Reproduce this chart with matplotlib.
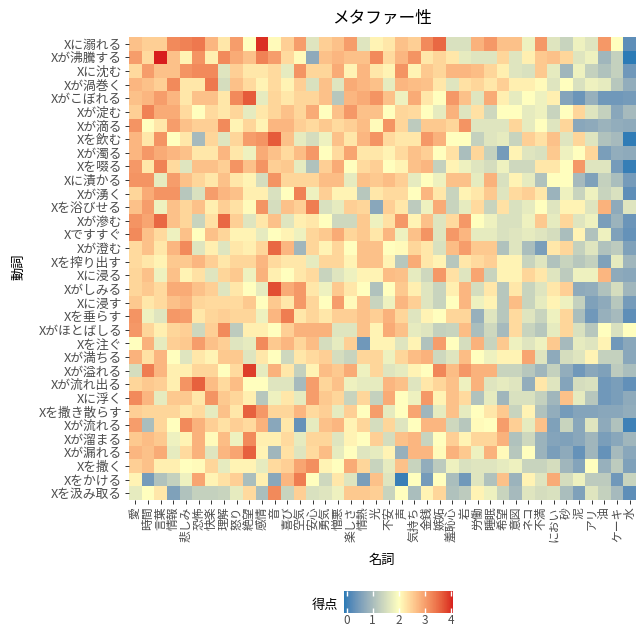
import numpy as np
import matplotlib
matplotlib.use('Agg')
import matplotlib.pyplot as plt
import matplotlib.colors as mcolors

plt.rcParams['font.family'] = ['Noto Sans CJK JP', 'DejaVu Sans']

# 名詞 (columns) and 動詞 (rows)
nouns = ['愛', '時間', '言葉', '情報', '悲しみ', '恐怖', '快楽', '理解', '怒り', '絶望',
         '感情', '音', '喜び', '空気', '安心', '勇気', '憎悪', '楽しさ', '情熱', '光',
         '不安', '声', '気持ち', '金銭', '嫉妬', '羞恥心', '岩', '労働', '睡眠', '希望',
         '意図', 'ネコ', '不満', 'におい', '砂', '泥', 'アリ', '油', 'ケーキ', '水']

verbs = ['Xに溺れる', 'Xが沸騰する', 'Xに沈む', 'Xが渦巻く', 'Xがこぼれる', 'Xが淀む',
         'Xが滴る', 'Xを飲む', 'Xが濁る', 'Xを啜る', 'Xに漬かる', 'Xが湧く',
         'Xを浴びせる', 'Xが滲む', 'Xですすぐ', 'Xが澄む', 'Xを搾り出す', 'Xに浸る',
         'Xがしみる', 'Xに浸す', 'Xを垂らす', 'Xがほとばしる', 'Xを注ぐ', 'Xが満ちる',
         'Xが溢れる', 'Xが流れ出る', 'Xに浮く', 'Xを撒き散らす', 'Xが流れる', 'Xが溜まる',
         'Xが漏れる', 'Xを撒く', 'Xをかける', 'Xを汲み取る']

# 得点: one row per verb, one value per noun
scores = [
    [2.64, 2.5, 2.5, 3.22, 3.3, 3.4, 2.76, 2.25, 3.02, 2.0, 4.0, 2.06, 2.5,
     3.02, 1.62, 2.5, 2.64, 3.02, 1.62, 2.12, 2.25, 2.64, 2.5, 3.22, 3.55, 1.55, 1.55,
     2.82, 3.08, 2.64, 2.64, 1.8, 3.08, 1.62, 1.35, 1.8, 1.62, 3.08, 2.0, 0.24],
    [3.02, 2.38, 4.08, 2.64, 2.12, 3.13, 2.18, 3.22, 2.88, 2.64, 3.3, 3.02, 2.38,
     2.06, 0.7, 2.64, 2.76, 2.64, 2.64, 3.22, 2.38, 2.76, 3.13, 2.25, 2.44, 2.25, 1.7,
     1.62, 1.62, 2.44, 1.62, 2.18, 2.57, 2.64, 2.44, 1.62, 1.8, 0.9, 1.3, -0.1],
    [2.38, 3.02, 2.64, 2.64, 3.13, 3.22, 3.22, 1.62, 2.5, 2.25, 2.25, 2.38, 1.7,
     3.13, 2.44, 2.44, 2.88, 2.12, 2.76, 2.25, 2.12, 3.13, 2.12, 2.57, 2.44, 2.76, 2.76,
     2.7, 2.44, 2.18, 1.62, 1.55, 2.57, 1.7, 0.9, 1.8, 1.3, 1.08, 1.3, 0.4],
    [2.76, 2.64, 2.5, 3.22, 2.25, 2.25, 3.4, 1.5, 2.64, 2.38, 2.12, 2.38, 2.12,
     2.5, 1.55, 2.64, 1.62, 2.88, 2.76, 2.64, 1.7, 2.76, 2.7, 2.64, 2.25, 1.62, 2.32,
     2.44, 2.25, 2.5, 2.18, 2.18, 2.06, 1.62, 2.0, 1.55, 1.8, 1.7, 1.15, 0.75],
    [2.64, 2.76, 3.02, 2.76, 2.25, 2.64, 2.64, 2.25, 3.22, 3.67, 1.7, 2.44, 2.25,
     2.44, 2.44, 2.64, 1.15, 2.76, 2.88, 3.13, 2.64, 1.8, 2.88, 2.25, 2.0, 3.08, 2.64,
     1.62, 2.88, 2.18, 1.7, 2.0, 1.8, 2.18, 0.6, 0.35, 0.8, 0.4, 0.4, 0.45],
    [2.5, 3.3, 2.88, 2.88, 2.38, 2.0, 2.38, 2.25, 2.44, 1.7, 2.25, 2.44, 2.64,
     2.44, 2.88, 2.0, 2.64, 3.08, 2.64, 2.64, 2.0, 2.44, 2.38, 2.0, 1.7, 2.82, 1.62,
     2.32, 1.42, 2.0, 2.0, 1.7, 1.8, 1.35, 2.0, 2.44, 1.62, 1.3, 0.65, 0.95],
    [3.13, 2.0, 2.25, 3.02, 2.64, 2.5, 2.5, 3.22, 2.12, 2.44, 2.12, 2.76, 2.76,
     2.5, 2.38, 2.57, 2.38, 2.5, 2.7, 2.06, 3.13, 2.44, 1.22, 2.57, 2.57, 2.44, 3.13,
     1.62, 1.62, 1.62, 2.44, 1.7, 2.0, 1.62, 2.44, 0.65, 0.7, 0.85, 0.75, 0.7],
    [2.76, 2.25, 3.13, 2.0, 2.25, 0.95, 2.44, 1.62, 2.44, 3.02, 3.13, 3.67, 2.64,
     1.7, 1.5, 1.8, 2.64, 2.25, 2.76, 3.13, 2.38, 2.25, 2.25, 3.08, 2.82, 2.0, 2.0,
     1.3, 1.62, 1.7, 1.35, 2.5, 2.32, 2.64, 1.62, 2.44, 1.62, 1.08, 0.95, -0.08],
    [2.76, 3.08, 2.88, 2.76, 2.64, 2.25, 2.25, 2.76, 2.25, 1.8, 2.88, 2.64, 2.38,
     2.7, 3.08, 2.0, 2.38, 2.95, 2.25, 2.25, 2.12, 2.38, 2.64, 2.5, 2.0, 2.32, 1.0,
     2.44, 1.3, 0.45, 2.12, 1.62, 1.55, 2.57, 1.8, 2.0, 2.44, 0.5, 0.75, 0.7],
    [3.08, 2.25, 3.3, 2.38, 1.62, 2.64, 2.64, 2.5, 3.13, 2.64, 3.13, 2.5, 2.57,
     1.7, 1.08, 2.5, 2.88, 2.0, 2.38, 2.5, 2.0, 2.12, 2.64, 2.76, 1.3, 2.12, 1.8,
     1.62, 1.5, 1.8, 1.42, 1.42, 2.25, 2.25, 2.0, 3.08, 1.62, 1.62, 0.45, -0.05],
    [3.13, 3.13, 1.7, 3.02, 2.64, 2.44, 2.25, 2.64, 2.25, 2.12, 1.5, 3.13, 2.44,
     2.44, 2.44, 2.7, 2.7, 1.7, 2.64, 2.57, 2.7, 2.5, 1.7, 2.0, 1.8, 2.64, 2.64,
     1.7, 2.82, 1.55, 2.12, 1.7, 1.08, 2.0, 2.0, 0.95, 0.55, 1.3, 1.0, 0.45],
    [2.44, 2.88, 3.13, 3.13, 1.15, 1.55, 3.02, 2.76, 2.64, 2.18, 2.18, 1.55, 2.0,
     3.3, 1.8, 2.5, 2.12, 2.12, 1.15, 2.25, 2.38, 2.38, 2.0, 2.76, 2.25, 1.35, 2.12,
     2.25, 2.57, 1.62, 2.38, 2.5, 2.25, 0.85, 1.8, 1.35, 1.8, 1.35, 1.55, 0.24],
    [2.64, 3.02, 1.8, 2.64, 2.44, 2.64, 2.18, 2.5, 2.32, 2.06, 3.13, 1.5, 2.64,
     2.5, 3.35, 1.55, 1.7, 2.5, 2.44, 0.65, 2.5, 2.25, 1.22, 1.8, 2.88, 1.35, 1.7,
     2.38, 1.35, 2.32, 1.55, 1.7, 2.0, 1.62, 2.12, 2.12, 1.62, 2.82, 0.7, 1.62],
    [3.13, 2.95, 3.55, 2.64, 2.44, 1.35, 2.32, 3.55, 2.5, 1.62, 2.25, 2.64, 1.62,
     2.18, 2.25, 2.0, 1.42, 1.42, 2.57, 1.8, 2.32, 3.08, 2.12, 2.64, 1.62, 2.38, 3.08,
     2.0, 1.8, 1.55, 1.55, 1.8, 2.57, 1.7, 2.44, 1.62, 1.8, 0.5, 0.85, 0.35],
    [3.22, 2.64, 2.38, 1.8, 2.64, 2.0, 2.64, 2.44, 2.12, 2.12, 1.7, 2.0, 2.12,
     1.8, 2.44, 2.57, 2.88, 2.44, 2.57, 2.25, 2.76, 1.8, 2.64, 3.13, 1.62, 3.08, 2.76,
     1.7, 1.7, 1.55, 1.62, 1.7, 1.62, 1.5, 1.0, 2.12, 1.08, 1.8, 0.55, 0.3],
    [2.38, 2.64, 2.25, 2.76, 3.22, 1.62, 2.18, 1.62, 2.25, 2.18, 2.44, 3.55, 2.76,
     0.9, 2.44, 2.12, 2.44, 2.0, 2.64, 2.64, 2.0, 2.06, 2.44, 2.25, 1.55, 2.7, 3.02,
     2.57, 2.57, 1.08, 1.62, 1.0, 0.5, 2.25, 2.44, 1.3, 1.62, 1.08, 1.22, 0.55],
    [2.38, 2.25, 2.12, 2.57, 2.57, 2.76, 2.5, 2.25, 2.44, 2.44, 2.76, 2.38, 2.25,
     2.25, 1.7, 2.44, 2.44, 2.12, 2.64, 2.64, 2.12, 1.15, 2.88, 2.25, 2.12, 1.15, 2.25,
     2.38, 2.5, 2.12, 2.12, 1.35, 1.62, 1.08, 1.35, 1.15, 1.3, 0.55, 1.7, 0.9],
    [2.44, 2.64, 1.8, 2.64, 2.12, 2.32, 1.62, 2.44, 2.57, 1.8, 2.82, 2.18, 2.0,
     2.25, 2.38, 1.35, 1.62, 1.8, 2.12, 2.12, 2.7, 2.64, 1.7, 1.42, 3.08, 2.32, 1.62,
     2.95, 1.35, 2.12, 2.12, 2.44, 2.25, 1.62, 1.22, 1.8, 1.8, 2.76, 0.7, 0.65],
    [2.44, 2.57, 2.38, 2.88, 2.88, 2.64, 2.5, 1.62, 2.25, 2.0, 1.7, 3.78, 2.88,
     3.08, 2.25, 1.8, 2.57, 2.25, 2.0, 1.08, 2.0, 2.57, 2.18, 1.62, 1.35, 2.18, 2.76,
     1.5, 2.25, 1.15, 2.25, 1.35, 1.62, 2.25, 2.5, 0.7, 0.75, 1.08, 1.5, 0.9],
    [2.57, 2.25, 2.38, 2.64, 2.76, 2.44, 2.38, 2.38, 2.38, 2.57, 2.0, 2.57, 2.25,
     3.08, 2.44, 2.0, 3.02, 2.06, 2.64, 1.35, 1.8, 2.76, 2.5, 1.62, 1.35, 2.0, 2.76,
     1.8, 2.12, 1.15, 2.7, 1.35, 1.7, 2.12, 1.8, 1.3, 0.55, 0.7, 1.15, 0.45],
    [3.13, 1.8, 1.62, 3.08, 3.02, 2.25, 2.44, 2.5, 2.44, 2.44, 1.8, 2.76, 3.35,
     2.25, 2.44, 2.25, 2.5, 2.5, 2.64, 2.5, 2.82, 2.44, 1.62, 2.12, 2.0, 2.44, 2.44,
     0.8, 1.62, 1.15, 2.38, 1.62, 1.35, 1.8, 2.44, 1.0, 0.4, 0.8, 0.95, 0.24],
    [3.08, 2.44, 2.18, 2.44, 2.5, 1.42, 2.5, 3.22, 1.22, 2.18, 2.18, 2.0, 2.5,
     2.82, 2.82, 2.82, 1.62, 1.62, 2.64, 2.12, 2.88, 2.64, 1.7, 1.62, 1.3, 1.35, 2.7,
     1.0, 1.42, 0.95, 2.38, 1.35, 1.15, 1.7, 2.44, 1.55, 1.15, 2.0, 1.55, 2.0],
    [2.0, 2.82, 1.7, 2.5, 2.57, 3.02, 2.64, 2.5, 1.62, 1.7, 3.22, 2.57, 2.76,
     2.44, 2.7, 1.5, 1.7, 2.5, 0.4, 2.12, 2.12, 1.62, 2.12, 1.08, 3.02, 2.0, 1.5,
     2.82, 1.35, 2.57, 1.8, 1.62, 1.8, 2.57, 0.95, 1.7, 1.62, 2.12, 0.4, 0.65],
    [2.82, 2.32, 2.76, 2.0, 1.62, 2.25, 2.12, 2.57, 2.57, 1.62, 2.25, 2.0, 1.42,
     2.25, 2.38, 2.5, 1.5, 1.35, 2.44, 2.44, 1.8, 2.44, 2.7, 2.82, 1.42, 1.62, 2.7,
     2.0, 1.8, 2.12, 2.12, 2.95, 1.62, 0.7, 1.5, 1.62, 2.12, 1.3, 1.3, 0.65],
    [1.5, 3.35, 2.76, 2.18, 2.18, 2.44, 2.44, 2.0, 2.38, 3.9, 1.7, 2.82, 2.25,
     1.3, 2.12, 2.7, 2.57, 2.88, 1.8, 2.44, 1.62, 1.7, 2.12, 2.0, 3.26, 2.7, 3.08,
     2.82, 2.82, 1.35, 1.35, 1.15, 0.9, 1.3, 0.75, 0.4, 0.65, 0.55, 1.22, 1.0],
    [2.44, 2.57, 2.5, 2.18, 3.13, 3.62, 2.7, 2.38, 2.7, 2.0, 2.0, 1.62, 1.62,
     0.95, 3.02, 2.44, 2.64, 1.8, 1.7, 1.7, 2.76, 2.64, 1.62, 2.25, 2.44, 2.64, 1.8,
     2.82, 1.62, 1.7, 1.62, 0.75, 2.25, 1.62, 0.6, 1.5, 1.55, 0.4, 0.5, 0.27],
    [3.22, 2.76, 1.7, 2.57, 2.57, 2.25, 3.13, 2.57, 2.44, 2.18, 1.15, 1.8, 2.25,
     1.7, 3.02, 2.57, 2.44, 1.35, 2.44, 1.3, 2.88, 2.0, 1.8, 3.08, 2.12, 2.64, 2.38,
     1.08, 1.7, 0.9, 1.55, 1.55, 1.3, 0.9, 2.64, 1.7, 1.15, 0.4, 0.5, 0.7],
    [2.5, 2.44, 2.44, 2.44, 2.25, 2.38, 1.7, 2.64, 2.25, 3.62, 3.08, 2.44, 2.44,
     2.76, 2.38, 2.5, 1.7, 2.5, 2.0, 3.02, 1.7, 2.0, 2.95, 0.9, 1.7, 2.64, 1.7,
     2.0, 2.25, 2.57, 1.35, 2.12, 1.08, 0.75, 0.45, 0.6, 0.6, 0.65, 0.65, 0.75],
    [3.02, 1.0, 2.44, 2.0, 3.22, 2.82, 2.5, 2.32, 2.5, 2.38, 2.82, 0.65, 2.25,
     0.3, 1.7, 2.64, 2.76, 2.12, 2.44, 1.5, 2.44, 1.62, 2.0, 2.76, 2.76, 1.42, 1.15,
     2.06, 2.0, 3.02, 2.5, 1.7, 2.64, 0.55, 1.35, 0.65, 1.62, 0.7, 1.08, 0.0],
    [2.57, 2.7, 2.57, 1.8, 2.12, 2.82, 2.06, 2.7, 1.8, 3.22, 2.18, 2.18, 2.38,
     1.7, 2.44, 2.44, 1.62, 2.12, 2.0, 2.5, 1.5, 2.64, 2.76, 1.35, 2.0, 2.5, 2.12,
     2.44, 2.44, 2.82, 1.08, 1.42, 0.85, 0.6, 0.55, 0.65, 0.9, 0.5, 0.65, 0.9],
    [2.76, 2.64, 2.88, 1.7, 2.38, 2.82, 1.62, 2.76, 2.95, 3.62, 2.12, 0.9, 2.32,
     1.62, 2.38, 2.7, 1.7, 2.0, 1.62, 1.7, 2.12, 0.8, 2.76, 2.76, 2.06, 2.82, 2.57,
     1.8, 2.82, 2.06, 1.15, 2.0, 0.85, 0.5, 0.7, 0.3, 0.9, 0.3, 0.95, 0.65],
    [2.5, 2.64, 2.18, 2.18, 2.0, 2.06, 2.44, 1.7, 2.12, 2.12, 1.7, 2.38, 2.5,
     2.95, 3.18, 2.12, 2.0, 2.88, 2.44, 1.35, 1.7, 2.64, 1.35, 0.75, 1.22, 1.8, 1.55,
     1.62, 1.62, 1.7, 1.8, 1.35, 1.35, 1.5, 0.9, 0.6, 2.0, 0.8, 1.22, 0.55],
    [2.12, 0.45, 1.08, 1.3, 1.8, 2.95, 2.12, 2.32, 2.5, 1.0, 2.18, 0.65, 2.76,
     3.35, 2.0, 1.42, 2.25, 1.62, 0.5, 2.64, 1.62, -0.02, 2.0, 0.45, 2.0, 1.0, 0.4,
     1.62, 1.08, 2.64, 0.85, 2.12, 1.62, 2.88, 1.5, 1.8, 1.22, 1.22, 0.4, 1.35],
    [1.7, 2.0, 2.25, 0.55, 1.08, 1.3, 1.3, 1.35, 1.7, 2.38, 1.0, 3.22, 1.35,
     2.5, 1.55, 1.62, 1.8, 2.57, 2.57, 2.5, 1.35, 2.0, 1.0, 2.12, 2.44, 1.08, 1.22,
     2.12, 1.8, 1.35, 0.95, 1.62, 1.5, 1.55, 1.0, 0.55, 1.62, 1.3, 0.95, 0.24],
]

low_col, mid_col, high_col = '#2C7BB6', '#FFFFBF', '#D7191C'
midpoint = 2


def to_lab(hex_color):
    rgb = np.array(mcolors.to_rgb(hex_color))
    lin = np.where(rgb <= 0.04045, rgb / 12.92, ((rgb + 0.055) / 1.055) ** 2.4)
    m = np.array([[0.4124, 0.3576, 0.1805],
                  [0.2126, 0.7152, 0.0722],
                  [0.0193, 0.1192, 0.9505]])
    xyz = m @ lin / np.array([0.95047, 1.0, 1.08883])
    f = np.where(xyz > (6 / 29) ** 3, np.cbrt(xyz), xyz / (3 * (6 / 29) ** 2) + 4 / 29)
    return np.array([116 * f[1] - 16, 500 * (f[0] - f[1]), 200 * (f[1] - f[2])])


def from_lab(lab):
    fy = (lab[0] + 16) / 116
    f = np.array([fy + lab[1] / 500, fy, fy - lab[2] / 200])
    xyz = np.where(f > 6 / 29, f ** 3, 3 * (6 / 29) ** 2 * (f - 4 / 29))
    xyz = xyz * np.array([0.95047, 1.0, 1.08883])
    m_inv = np.array([[3.2406, -1.5372, -0.4986],
                      [-0.9689, 1.8758, 0.0415],
                      [0.0557, -0.2040, 1.0570]])
    lin = np.clip(m_inv @ xyz, 0, 1)
    rgb = np.where(lin <= 0.0031308, 12.92 * lin, 1.055 * lin ** (1 / 2.4) - 0.055)
    return np.clip(rgb, 0, 1)


# diverging gradient interpolated in Lab space
labs = [to_lab(c) for c in (low_col, mid_col, high_col)]
cols = []
for t in np.linspace(0, 1, 256):
    if t <= 0.5:
        s = t / 0.5
        cols.append(from_lab(labs[0] * (1 - s) + labs[1] * s))
    else:
        s = (t - 0.5) / 0.5
        cols.append(from_lab(labs[1] * (1 - s) + labs[2] * s))
cmap = mcolors.ListedColormap(cols)

z = np.array(scores)
lo, hi = z.min(), z.max()
half = max(midpoint - lo, hi - midpoint)
norm = mcolors.Normalize(midpoint - half, midpoint + half)

W, H = 637, 630
fig = plt.figure(figsize=(W / 100, H / 100), dpi=100)
ax = fig.add_axes([129 / W, 1 - 500 / H, 507 / W, 463 / H])

ax.pcolormesh(np.arange(len(nouns) + 1), np.arange(len(verbs) + 1), z,
              cmap=cmap, norm=norm)
ax.set_xlim(0, len(nouns))
ax.set_ylim(len(verbs), 0)
ax.set_xticks(np.arange(len(nouns)) + 0.5)
ax.set_xticklabels(nouns, rotation=90, fontsize=8.5, color='#4D4D4D')
ax.set_yticks(np.arange(len(verbs)) + 0.5)
ax.set_yticklabels(verbs, fontsize=9.2, color='#4D4D4D')
ax.tick_params(length=3, width=0.7, color='#333333', pad=2)
for s in ax.spines.values():
    s.set_visible(False)

fig.text(382 / W, 1 - 18 / H, 'メタファー性', ha='center', va='center', fontsize=12)
fig.text(382 / W, 1 - 560 / H, '名詞', ha='center', va='center', fontsize=9.5)
fig.text(19 / W, 1 - 267 / H, '動詞', ha='center', va='center', fontsize=9.5,
         rotation=90)

# colour bar legend
cax = fig.add_axes([344 / W, 1 - 613 / H, 109 / W, 22 / H])
grad = np.linspace(lo, hi, 256)
cax.pcolormesh(np.linspace(lo, hi, 257), [0, 1], grad[None, :], cmap=cmap, norm=norm)
cax.set_xlim(lo, hi)
cax.set_ylim(0, 1)
cax.set_yticks([])
cax.set_xticks([0, 1, 2, 3, 4])
cax.tick_params(axis='x', direction='in', length=3.5, width=1, color='white',
                top=True, bottom=True, labelsize=8.5, labelcolor='#4D4D4D', pad=1)
for s in cax.spines.values():
    s.set_visible(False)
fig.text(325 / W, 1 - 605 / H, '得点', ha='center', va='center', fontsize=9.5)

fig.savefig('out.png', dpi=100)
